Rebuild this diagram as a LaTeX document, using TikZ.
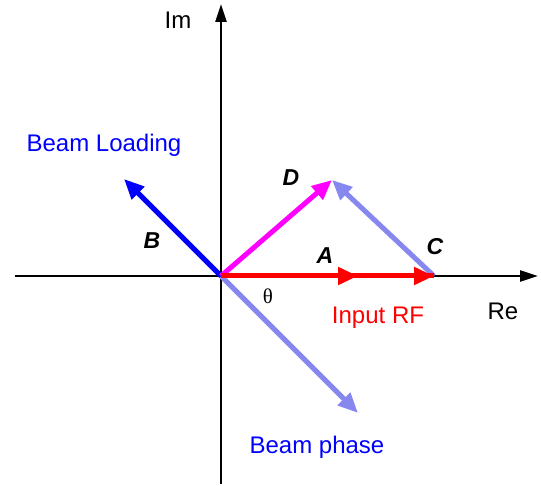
\documentclass[tikz,border=0pt]{standalone}
\usepackage{fontspec}
\setmainfont{Liberation Sans}
\newfontfamily\serifth{Liberation Serif}
\usetikzlibrary{arrows.meta}
\definecolor{hatchblue}{RGB}{135,135,240}
\definecolor{pureblue}{RGB}{0,0,255}
\definecolor{purered}{RGB}{255,0,0}
\definecolor{puremag}{RGB}{255,0,255}
\tikzset{
  axis/.style={line width=2.6pt,-{Triangle[length=18pt,width=11pt]}},
  vec/.style={line width=5pt,-{Triangle[length=20pt,width=17pt]}},
  lbl/.style={inner sep=0pt,font=\fontsize{24}{28}\selectfont},
  letter/.style={inner sep=0pt,font=\fontsize{23}{27}\selectfont\bfseries\itshape},
}
\begin{document}
\begin{tikzpicture}[x=1pt,y=-1pt]
\useasboundingbox (0,0) rectangle (541,486);
\coordinate (O) at (221,276);
\coordinate (Xl) at (15,276);
\coordinate (Xr) at (538,276);
\coordinate (Yb) at (221,484);
\coordinate (Yt) at (221,4);
\coordinate (A) at (358,276);
\coordinate (C) at (434,276);
\coordinate (D) at (332,180);
\coordinate (B) at (124,179);
\coordinate (P) at (358,413);
\draw[axis] (Xl) -- (Xr);
\draw[axis] (Yb) -- (Yt);
\draw[vec,hatchblue] (O) -- (P);
\draw[vec,hatchblue] (C) -- (D);
\draw[vec,pureblue] (O) -- (B);
\draw[vec,puremag] (O) -- (D);
\draw[vec,purered,-] (O) -- (C);
\draw[vec,purered] (O) -- (A);
\draw[vec,purered] (A) -- (C);
\node[lbl] (im) at (178,20) {Im};
\node[lbl] (re) at (503,311) {Re};
\node[lbl,text=pureblue] (bl) at (104,145) {Beam Loading};
\node[lbl,text=purered] (irf) at (378,318) {Input RF};
\node[lbl,text=pureblue] (bp) at (317,447) {Beam phase};
\node[letter] (lb) at (152,241) {B};
\node[letter] (ld) at (291,178) {D};
\node[letter] (la) at (325,256) {A};
\node[letter] (lc) at (435,247) {C};
\node[inner sep=0pt,font=\fontsize{21}{25}\selectfont\serifth] (th) at (268,296) {θ};
\end{tikzpicture}
\end{document}
